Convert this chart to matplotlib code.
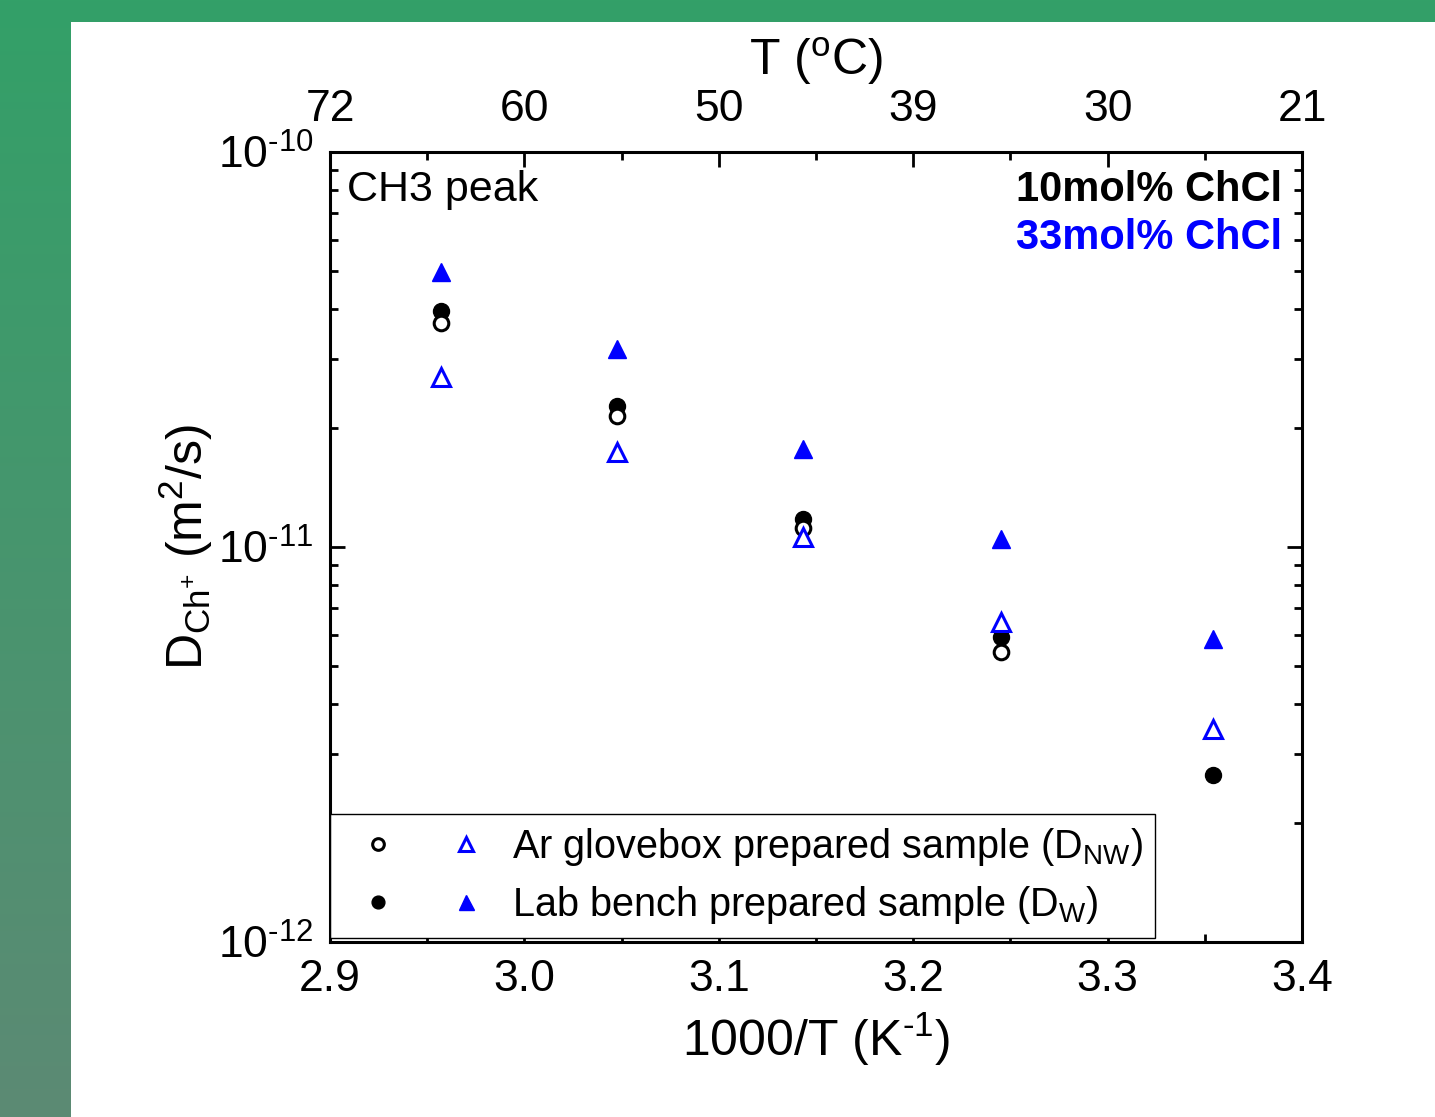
import numpy as np
import matplotlib
matplotlib.use('Agg')
import matplotlib.pyplot as plt
from matplotlib.legend_handler import HandlerTuple
from matplotlib.ticker import FixedLocator, LogLocator, NullFormatter, FuncFormatter

plt.rcParams['font.family'] = ['Liberation Sans', 'DejaVu Sans']
plt.rcParams['mathtext.fontset'] = 'custom'
plt.rcParams['mathtext.rm'] = 'Liberation Sans'
plt.rcParams['mathtext.it'] = 'Liberation Sans:italic'
plt.rcParams['mathtext.bf'] = 'Liberation Sans:bold'

# temperatures (C) -> 1000/T
temp_c = np.array([65, 55, 45, 35, 25])
inv_t = 1000 / (temp_c + 273.15)

# 10 mol% ChCl
d_nw_10 = [3.69e-11, 2.15e-11, 1.12e-11, 5.42e-12, np.nan]
d_w_10 = [3.96e-11, 2.28e-11, 1.18e-11, 5.92e-12, 2.65e-12]
# 33 mol% ChCl
d_nw_33 = [2.69e-11, 1.74e-11, 1.06e-11, 6.45e-12, 3.46e-12]
d_w_33 = [4.97e-11, 3.17e-11, 1.77e-11, 1.05e-11, 5.85e-12]

top_ticks = [2.9, 3.0, 3.1, 3.2, 3.3, 3.4]
top_labels = ['72', '60', '50', '39', '30', '21']

W, H = 1435, 1117
fig = plt.figure(figsize=(W / 100, H / 100), dpi=100)

# green background (slight vertical gradient) with white panel
t = np.linspace(0, 1, H)[:, None, None]
top_col = np.array([51, 160, 104]) / 255
bot_col = np.array([92, 138, 116]) / 255
img = np.repeat(top_col * (1 - t) + bot_col * t, W, axis=1)
img[22:, 71:, :] = 1.0
fig.figimage(img, xo=0, yo=0, origin='upper', zorder=-10)

ax = fig.add_axes([330 / W, 1 - 942 / H, 972 / W, 790 / H])

ms = 11.5
h_fc, = ax.plot(inv_t, d_w_10, 'o', color='black', ms=ms, ls='none')
h_oc, = ax.plot(inv_t, d_nw_10, 'o', mfc='white', mec='black', mew=2.2, ms=ms - 1, ls='none')
h_ot, = ax.plot(inv_t, d_nw_33, '^', mfc='white', mec='blue', mew=2.2, ms=ms + 1, ls='none')
h_ft, = ax.plot(inv_t, d_w_33, '^', color='blue', ms=ms + 2, ls='none')

ax.set_yscale('log')
ax.set_xlim(2.9, 3.4)
ax.set_ylim(1e-12, 1e-10)
ax.set_xticks([2.9, 3.0, 3.1, 3.2, 3.3, 3.4])
ax.set_xticklabels(['2.9', '3.0', '3.1', '3.2', '3.3', '3.4'])
ax.xaxis.set_minor_locator(FixedLocator([2.95, 3.05, 3.15, 3.25, 3.35]))
ax.yaxis.set_major_formatter(FuncFormatter(
    lambda v, p: '10$^{\\text{%d}}$' % round(np.log10(v))))
ax.yaxis.set_minor_locator(LogLocator(base=10, subs=np.arange(2, 10)))
ax.yaxis.set_minor_formatter(NullFormatter())

ax.tick_params(which='both', direction='in', top=False, right=True, labelsize=32, width=2, pad=12)
ax.tick_params(which='major', length=11)
ax.tick_params(which='minor', length=5.5)
for s in ax.spines.values():
    s.set_linewidth(2.2)

ax.set_xlabel('1000/T (K$^{\\text{-1}}$)', fontsize=36, labelpad=8)
ax.set_ylabel('D$_{\\rm Ch^{+}}$ (m$^{2}$/s)', fontsize=36, labelpad=2)

ax2 = ax.twiny()
ax2.set_xlim(ax.get_xlim())
ax2.set_xticks(top_ticks)
ax2.set_xticklabels(top_labels)
ax2.xaxis.set_minor_locator(FixedLocator([2.95, 3.05, 3.15, 3.25, 3.35]))
ax2.tick_params(which='both', direction='in', labelsize=32, width=2, pad=16)
ax2.tick_params(which='major', length=11)
ax2.tick_params(which='minor', length=5.5)
ax2.set_xlabel('T ($^{\\rm o}$C)', fontsize=36, labelpad=10)

ax.text(0.018, 0.952, 'CH3 peak', transform=ax.transAxes, fontsize=31, va='center', ha='left')
ax.text(0.98, 0.952, '10mol% ChCl', transform=ax.transAxes, fontsize=30, fontweight='bold',
        va='center', ha='right', color='black')
ax.text(0.98, 0.891, '33mol% ChCl', transform=ax.transAxes, fontsize=30, fontweight='bold',
        va='center', ha='right', color='blue')

leg = ax.legend([(h_oc, h_ot), (h_fc, h_ft)],
                ['Ar glovebox prepared sample (D$_{\\rm NW}$)', 'Lab bench prepared sample (D$_{\\rm W}$)'],
                handler_map={tuple: HandlerTuple(ndivide=None, pad=0.37)},
                loc='lower left', bbox_to_anchor=(0, 0.005), borderaxespad=0,
                fontsize=28.5, markerscale=0.8, handlelength=4.05, handletextpad=0.25,
                borderpad=0.3, labelspacing=0.4, frameon=True, fancybox=False,
                edgecolor='black', framealpha=1)
leg.get_frame().set_linewidth(1.0)

fig.savefig('out.png', dpi=100)
